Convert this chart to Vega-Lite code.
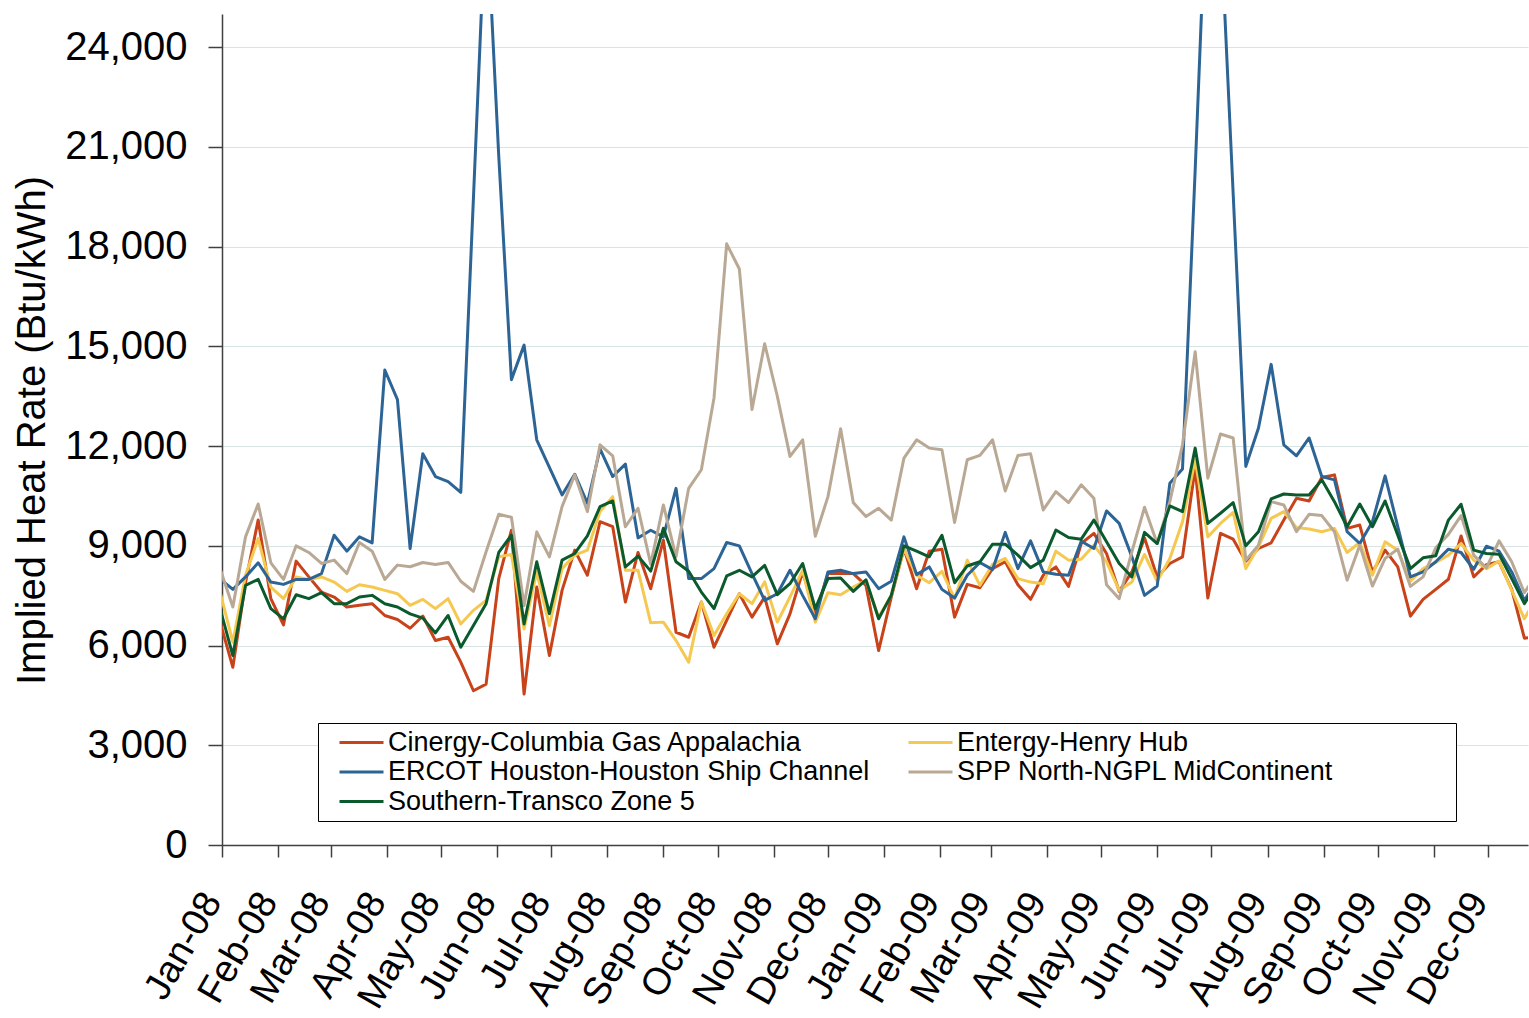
{
  "$schema": "https://vega.github.io/schema/vega-lite/v6.json",
  "width": 1306,
  "height": 831,
  "autosize": "none",
  "padding": {"left": 222, "top": 14, "right": 1, "bottom": 173},
  "background": "white",
  "config": {"view": {"stroke": null}, "font": "Liberation Sans"},
  "data": {"values": [
    {"date":"2007-12-31","C":6700,"E":7600,"R":8000,"S":8300,"T":7100},
    {"date":"2008-01-07","C":5345,"E":6100,"R":7690,"S":7160,"T":5700},
    {"date":"2008-01-14","C":7900,"E":8115,"R":8065,"S":9270,"T":7810},
    {"date":"2008-01-21","C":9780,"E":9220,"R":8490,"S":10260,"T":7990},
    {"date":"2008-01-28","C":7410,"E":7760,"R":7910,"S":8490,"T":7110},
    {"date":"2008-02-04","C":6620,"E":7410,"R":7840,"S":7990,"T":6805},
    {"date":"2008-02-11","C":8540,"E":8065,"R":7990,"S":9000,"T":7530},
    {"date":"2008-02-18","C":8065,"E":7990,"R":7990,"S":8800,"T":7410},
    {"date":"2008-02-25","C":7610,"E":8065,"R":8165,"S":8470,"T":7590},
    {"date":"2008-03-03","C":7460,"E":7910,"R":9320,"S":8570,"T":7260},
    {"date":"2008-03-10","C":7160,"E":7630,"R":8840,"S":8165,"T":7260},
    {"date":"2008-03-17","C":7210,"E":7830,"R":9270,"S":9100,"T":7460},
    {"date":"2008-03-24","C":7260,"E":7760,"R":9090,"S":8840,"T":7510},
    {"date":"2008-03-31","C":6905,"E":7660,"R":14290,"S":7990,"T":7260},
    {"date":"2008-04-07","C":6785,"E":7560,"R":13400,"S":8420,"T":7160},
    {"date":"2008-04-14","C":6520,"E":7210,"R":8920,"S":8370,"T":6955},
    {"date":"2008-04-21","C":6890,"E":7390,"R":11770,"S":8500,"T":6825},
    {"date":"2008-04-28","C":6150,"E":7110,"R":11085,"S":8440,"T":6380},
    {"date":"2008-05-05","C":6250,"E":7410,"R":10935,"S":8500,"T":6905},
    {"date":"2008-05-12","C":5500,"E":6650,"R":10610,"S":7935,"T":5950},
    {"date":"2008-05-19","C":4640,"E":7060,"R":19460,"S":7630,"T":6600},
    {"date":"2008-05-26","C":4840,"E":7360,"R":28400,"S":8820,"T":7260},
    {"date":"2008-06-02","C":8015,"E":8670,"R":20720,"S":9950,"T":8800},
    {"date":"2008-06-09","C":9470,"E":8740,"R":14000,"S":9860,"T":9320},
    {"date":"2008-06-16","C":4540,"E":6500,"R":15040,"S":7200,"T":6650},
    {"date":"2008-06-23","C":7760,"E":8215,"R":12190,"S":9420,"T":8520},
    {"date":"2008-06-30","C":5700,"E":6600,"R":11360,"S":8670,"T":6960},
    {"date":"2008-07-07","C":7660,"E":8315,"R":10530,"S":10180,"T":8570},
    {"date":"2008-07-14","C":8870,"E":8720,"R":11155,"S":11135,"T":8770},
    {"date":"2008-07-21","C":8115,"E":8870,"R":10280,"S":10030,"T":9300},
    {"date":"2008-07-28","C":9726,"E":10030,"R":11920,"S":12040,"T":10180},
    {"date":"2008-08-04","C":9575,"E":10480,"R":11085,"S":11710,"T":10350},
    {"date":"2008-08-11","C":7310,"E":8265,"R":11460,"S":9575,"T":8365},
    {"date":"2008-08-18","C":8800,"E":8265,"R":9240,"S":10130,"T":8690},
    {"date":"2008-08-25","C":7710,"E":6685,"R":9470,"S":8450,"T":8240},
    {"date":"2008-09-01","C":9170,"E":6705,"R":9270,"S":10230,"T":9525},
    {"date":"2008-09-08","C":6400,"E":6150,"R":10730,"S":8670,"T":8520},
    {"date":"2008-09-15","C":6250,"E":5500,"R":8015,"S":10730,"T":8235},
    {"date":"2008-09-22","C":7310,"E":7310,"R":8015,"S":11290,"T":7610},
    {"date":"2008-09-29","C":5950,"E":6300,"R":8315,"S":13450,"T":7110},
    {"date":"2008-10-06","C":6755,"E":6955,"R":9100,"S":18085,"T":8095},
    {"date":"2008-10-13","C":7560,"E":7560,"R":9000,"S":17330,"T":8265},
    {"date":"2008-10-20","C":6855,"E":7260,"R":8165,"S":13100,"T":8065},
    {"date":"2008-10-27","C":7460,"E":7915,"R":7360,"S":15080,"T":8415},
    {"date":"2008-11-03","C":6050,"E":6705,"R":7560,"S":13500,"T":7530},
    {"date":"2008-11-10","C":6955,"E":7460,"R":8265,"S":11690,"T":7860},
    {"date":"2008-11-17","C":8215,"E":8265,"R":7510,"S":12190,"T":8470},
    {"date":"2008-11-24","C":6950,"E":6705,"R":6805,"S":9290,"T":7110},
    {"date":"2008-12-01","C":8165,"E":7590,"R":8215,"S":10480,"T":8015},
    {"date":"2008-12-08","C":8165,"E":7530,"R":8265,"S":12525,"T":8035},
    {"date":"2008-12-15","C":8165,"E":7760,"R":8165,"S":10300,"T":7630},
    {"date":"2008-12-22","C":7810,"E":7960,"R":8215,"S":9880,"T":7980},
    {"date":"2008-12-29","C":5850,"E":6850,"R":7710,"S":10130,"T":6805},
    {"date":"2009-01-05","C":7460,"E":7510,"R":7935,"S":9775,"T":7510},
    {"date":"2009-01-12","C":8920,"E":8900,"R":9270,"S":11640,"T":9000},
    {"date":"2009-01-19","C":7710,"E":8115,"R":8135,"S":12190,"T":8840},
    {"date":"2009-01-26","C":8840,"E":7890,"R":8365,"S":11940,"T":8670},
    {"date":"2009-02-02","C":8900,"E":8235,"R":7690,"S":11890,"T":9320},
    {"date":"2009-02-09","C":6855,"E":7410,"R":7430,"S":9705,"T":7890},
    {"date":"2009-02-16","C":7840,"E":8570,"R":8115,"S":11590,"T":8395},
    {"date":"2009-02-23","C":7740,"E":7810,"R":8500,"S":11720,"T":8520},
    {"date":"2009-03-02","C":8315,"E":8445,"R":8285,"S":12190,"T":9050},
    {"date":"2009-03-09","C":8520,"E":8620,"R":9405,"S":10650,"T":9050},
    {"date":"2009-03-16","C":7830,"E":8015,"R":8315,"S":11720,"T":8720},
    {"date":"2009-03-23","C":7390,"E":7910,"R":9150,"S":11770,"T":8345},
    {"date":"2009-03-30","C":8115,"E":7860,"R":8215,"S":10080,"T":8570},
    {"date":"2009-04-06","C":8365,"E":8840,"R":8145,"S":10630,"T":9475},
    {"date":"2009-04-13","C":7780,"E":8570,"R":8115,"S":10300,"T":9250},
    {"date":"2009-04-20","C":9070,"E":8600,"R":9140,"S":10835,"T":9200},
    {"date":"2009-04-27","C":9375,"E":9020,"R":8920,"S":10430,"T":9775},
    {"date":"2009-05-04","C":8770,"E":8520,"R":10050,"S":7830,"T":9120},
    {"date":"2009-05-11","C":7630,"E":7660,"R":9675,"S":7410,"T":8470},
    {"date":"2009-05-18","C":8215,"E":7910,"R":8670,"S":8820,"T":8065},
    {"date":"2009-05-25","C":9240,"E":8740,"R":7510,"S":10160,"T":9405},
    {"date":"2009-06-01","C":8065,"E":7935,"R":7790,"S":9070,"T":9070},
    {"date":"2009-06-08","C":8470,"E":8620,"R":10885,"S":10330,"T":10200},
    {"date":"2009-06-15","C":8670,"E":9725,"R":11310,"S":12040,"T":10030},
    {"date":"2009-06-22","C":11340,"E":11590,"R":20300,"S":14840,"T":11940},
    {"date":"2009-06-29","C":7430,"E":9270,"R":29800,"S":11035,"T":9675},
    {"date":"2009-07-06","C":9375,"E":9675,"R":27800,"S":12365,"T":9980},
    {"date":"2009-07-13","C":9200,"E":10010,"R":19600,"S":12245,"T":10300},
    {"date":"2009-07-20","C":8540,"E":8315,"R":11390,"S":8570,"T":9000},
    {"date":"2009-07-27","C":8920,"E":8970,"R":12545,"S":9020,"T":9425},
    {"date":"2009-08-03","C":9090,"E":9825,"R":14460,"S":10330,"T":10410},
    {"date":"2009-08-10","C":9775,"E":10030,"R":12040,"S":10230,"T":10560},
    {"date":"2009-08-17","C":10430,"E":9550,"R":11710,"S":9425,"T":10530},
    {"date":"2009-08-24","C":10350,"E":9505,"R":12245,"S":9950,"T":10530},
    {"date":"2009-08-31","C":11055,"E":9425,"R":11085,"S":9910,"T":10985},
    {"date":"2009-09-07","C":11135,"E":9525,"R":10985,"S":9425,"T":10330},
    {"date":"2009-09-14","C":9525,"E":8800,"R":9425,"S":7965,"T":9575},
    {"date":"2009-09-21","C":9625,"E":9100,"R":9070,"S":9020,"T":10260},
    {"date":"2009-09-28","C":8215,"E":8115,"R":9725,"S":7790,"T":9575},
    {"date":"2009-10-05","C":8870,"E":9120,"R":11105,"S":8620,"T":10350},
    {"date":"2009-10-12","C":8365,"E":8870,"R":9580,"S":8900,"T":9320},
    {"date":"2009-10-19","C":6885,"E":7935,"R":8065,"S":7780,"T":8315},
    {"date":"2009-10-26","C":7390,"E":8315,"R":8215,"S":8065,"T":8640},
    {"date":"2009-11-02","C":7690,"E":8500,"R":8520,"S":8940,"T":8700},
    {"date":"2009-11-09","C":7995,"E":8720,"R":8900,"S":9345,"T":9775},
    {"date":"2009-11-16","C":9295,"E":9070,"R":8800,"S":9910,"T":10250},
    {"date":"2009-11-23","C":8065,"E":8570,"R":8295,"S":8720,"T":8870},
    {"date":"2009-11-30","C":8435,"E":8315,"R":8990,"S":8335,"T":8770},
    {"date":"2009-12-07","C":8520,"E":8540,"R":8840,"S":9150,"T":8750},
    {"date":"2009-12-14","C":7690,"E":7660,"R":8215,"S":8520,"T":8015},
    {"date":"2009-12-21","C":6220,"E":6805,"R":7360,"S":7590,"T":7260},
    {"date":"2009-12-28","C":6270,"E":7480,"R":7945,"S":8165,"T":7845}
  ]},
  "transform": [
    {"fold": ["C", "E", "R", "S", "T"], "as": ["series", "value"]}
  ],
  "mark": {"type": "line", "strokeWidth": 3, "clip": true, "strokeJoin": "round"},
  "encoding": {
    "x": {
      "field": "date", "type": "temporal", "title": null,
      "scale": {"type": "utc", "domain": [{"year": 2008, "month": 1, "date": 1, "utc": true}, {"year": 2009, "month": 12, "date": 23, "utc": true}]},
      "axis": {
        "tickCount": {"interval": "month", "step": 1},
        "format": "%b-%y",
        "labelAngle": -60, "labelAlign": "right", "labelBaseline": "alphabetic",
        "labelFont": "Liberation Sans", "labelFontSize": 38, "labelColor": "black",
        "labelPadding": 44, "labelOffset": 0, "labelOverlap": false, "labelFlush": false, "labelBound": false,
        "tickSize": 12, "tickColor": "#404040", "tickWidth": 1.5,
        "domainColor": "#404040", "domainWidth": 1.5, "grid": false
      }
    },
    "y": {
      "field": "value", "type": "quantitative", "title": "Implied Heat Rate (Btu/kWh)",
      "scale": {"domain": [0, 25000], "nice": false, "zero": true},
      "axis": {
        "values": [0, 3000, 6000, 9000, 12000, 15000, 18000, 21000, 24000],
        "format": ",d",
        "labelFont": "Liberation Sans", "labelFontSize": 40, "labelColor": "black",
        "labelPadding": 21, "tickSize": 14, "tickColor": "#404040", "tickWidth": 1.5,
        "domainColor": "#404040", "domainWidth": 1.5,
        "grid": true, "gridColor": "#d8e4e4", "gridWidth": 1,
        "titleFont": "Liberation Sans", "titleFontSize": 40, "titleFontWeight": "normal", "titleColor": "black",
        "titleX": -178, "titleY": 416, "titleAngle": 270, "titleAlign": "center", "titleBaseline": "alphabetic"
      }
    },
    "color": {
      "field": "series", "type": "nominal",
      "scale": {
        "domain": ["C", "R", "T", "E", "S"],
        "range": ["#c8421a", "#2d6496", "#0a5a2d", "#f5c850", "#b9a894"]
      },
      "legend": {
        "orient": "none", "legendX": 96, "legendY": 709,
        "title": " ", "titleOrient": "right", "titlePadding": 116, "titleFontSize": 1,
        "columns": 2, "gridAlign": "all", "columnPadding": 23, "rowPadding": 1.5,
        "clipHeight": 27,
        "padding": 6, "symbolOffset": 14,
        "symbolType": "stroke", "symbolSize": 1936, "symbolStrokeWidth": 3,
        "labelFont": "Liberation Sans", "labelFontSize": 27, "labelColor": "black", "labelOffset": 3, "labelLimit": 700,
        "strokeColor": "black", "fillColor": "white",
        "labelExpr": "datum.value === 'C' ? 'Cinergy-Columbia Gas Appalachia' : datum.value === 'E' ? 'Entergy-Henry Hub' : datum.value === 'R' ? 'ERCOT Houston-Houston Ship Channel' : datum.value === 'S' ? 'SPP North-NGPL MidContinent' : 'Southern-Transco Zone 5'"
      }
    }
  }
}
